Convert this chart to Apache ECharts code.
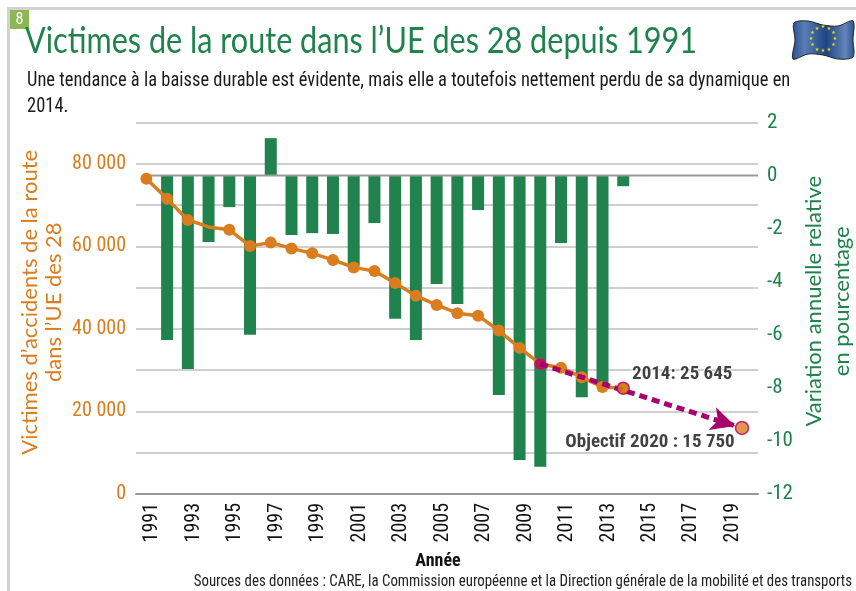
<!DOCTYPE html>
<html>
<head>
<meta charset="utf-8">
<style>html,body{margin:0;padding:0;background:#fff}#chart{width:856px;height:591px}</style>
<script src="https://cdn.jsdelivr.net/npm/echarts@6/dist/echarts.min.js"></script>
</head>
<body>
<div id="chart"></div>
<script>
// Données
const years = [];
for (let y = 1991; y <= 2020; y++) years.push(String(y));
const victimes = [76400, 71500, 66400, 64700, 64000, 60100, 60900, 59500, 58300, 56700, 54900, 54000, 51100, 48000, 45800, 43800, 43200, 39600, 35400, 31500, 30600, 28300, 25900, 25645];
const variation = [null, -6.2, -7.29, -2.5, -1.19, -6.0, 1.41, -2.24, -2.17, -2.2, -3.4, -1.79, -5.4, -6.2, -4.09, -4.84, -1.3, -8.27, -10.72, -10.97, -2.54, -8.35, -7.9, -0.4];
const zeroLine = [[1991.2, 0], [2020.5, 0]];
const trendStart = [2010, 31500];
const trendEnd = [2019.4, 16500];
const point2014 = [2014, 25645];
const point2020 = [2019.73, 16000];
const label2014 = '2014: 25 645';
const label2020 = 'Objectif 2020 : 15 750';

const ORANGE = '#d97d1e';
const GREEN = '#20824c';
const MAGENTA = '#a8006e';
const NARROW = '"Roboto Condensed", sans-serif';
const ROUND = 'Lato, sans-serif';

// Drapeau européen : 12 étoiles en cercle
const stars = [];
for (let i = 0; i < 12; i++) {
  const a = i * Math.PI / 6;
  stars.push({
    type: 'text', z: 12, x: 823 + 12 * Math.cos(a), y: 39 + 12 * Math.sin(a),
    style: { text: '★', fill: '#f5d90a', font: '5px "DejaVu Sans"', align: 'center', verticalAlign: 'middle' }
  });
}

const chart = echarts.init(document.getElementById('chart'), null, { renderer: 'canvas' });
chart.setOption({
  animation: false,
  backgroundColor: '#fff',
  grid: { left: 136, right: 98, top: 122.5, bottom: 97, outerBoundsMode: 'none' },
  xAxis: [
    { type: 'category', data: years, boundaryGap: true,
      axisTick: { show: false },
      axisLine: { onZero: false, lineStyle: { color: '#999', width: 2 } },
      axisLabel: { interval: 1, rotate: 90, margin: 9, color: '#111', fontFamily: NARROW, fontSize: 20, verticalAlign: 'top', lineHeight: 12 },
      name: 'Année', nameLocation: 'middle', nameGap: 58,
      nameTextStyle: { color: '#111', fontFamily: NARROW, fontSize: 18, fontWeight: 700, padding: [0, 18, 0, 0] } },
    { type: 'value', show: false, min: 1990.5, max: 2020.5 }
  ],
  yAxis: [
    { type: 'value', min: 0, max: 90000, interval: 10000, position: 'left',
      axisLine: { show: false }, axisTick: { show: false },
      splitLine: { lineStyle: { color: '#cfcfcf', width: 2 } },
      axisLabel: { margin: 10, color: ORANGE, fontFamily: NARROW, fontSize: 20,
        formatter: v => v % 20000 ? '' : String(v).replace(/(\d)(?=\d{3}$)/, '$1 ') },
      name: 'Victimes d’accidents de la route\ndans l’UE des 28', nameLocation: 'middle', nameGap: 70, nameRotate: 90, nameMoveOverlap: false,
      nameTextStyle: { color: ORANGE, fontFamily: ROUND, fontSize: 22, lineHeight: 24, padding: [0, 0, 0, 12] } },
    { type: 'value', min: -12, max: 2, interval: 2, position: 'right',
      axisLine: { show: false }, axisTick: { show: false }, splitLine: { show: false },
      axisLabel: { margin: 9, color: GREEN, fontFamily: NARROW, fontSize: 21 },
      name: 'Variation annuelle relative\nen pourcentage', nameLocation: 'middle', nameGap: 42, nameRotate: 90, nameMoveOverlap: false,
      nameTextStyle: { color: GREEN, fontFamily: ROUND, fontSize: 22, lineHeight: 28, padding: [0, 0, 0, 14] } }
  ],
  series: [
    { type: 'line', xAxisIndex: 1, yAxisIndex: 1, data: zeroLine, symbol: 'none', silent: true,
      lineStyle: { color: '#999', width: 2 } },
    { type: 'bar', xAxisIndex: 0, yAxisIndex: 1, data: variation, barWidth: 12,
      itemStyle: { color: GREEN } },
    { type: 'line', xAxisIndex: 0, yAxisIndex: 0,
      data: victimes.map((v, i) => (i === 3 ? { value: v, symbol: 'none' } : v)),
      symbol: 'circle', symbolSize: 12,
      lineStyle: { color: ORANGE, width: 3.5 }, itemStyle: { color: ORANGE } },
    { type: 'line', xAxisIndex: 1, yAxisIndex: 0, data: [],
      markLine: { silent: true, symbol: ['none', 'arrow'], symbolSize: [18, 24], label: { show: false },
        lineStyle: { color: MAGENTA, width: 5, type: [8, 5], opacity: 1 },
        data: [[{ coord: trendStart }, { coord: trendEnd }]] } },
    { type: 'scatter', xAxisIndex: 1, yAxisIndex: 0, z: 5, symbolSize: 12,
      data: [
        { value: trendStart, itemStyle: { color: MAGENTA } },
        { value: point2014, symbolSize: 12,
          itemStyle: { color: ORANGE, borderColor: MAGENTA, borderWidth: 1.5 },
          label: { show: true, formatter: label2014, position: 'top', offset: [59, 4], distance: 2,
            color: '#111', fontFamily: NARROW, fontSize: 19, fontWeight: 700,
            textBorderColor: '#fff', textBorderWidth: 2 } },
        { value: point2020, symbolSize: 13,
          itemStyle: { color: ORANGE, borderColor: MAGENTA, borderWidth: 1.5 },
          label: { show: true, formatter: label2020, position: 'bottom', offset: [-92, -3], distance: 1,
            color: '#111', fontFamily: NARROW, fontSize: 19, fontWeight: 700,
            textBorderColor: '#fff', textBorderWidth: 2 } }
      ] }
  ],
  graphic: [
    // cadre gris haut + gauche
    { type: 'rect', shape: { x: 8, y: 7, width: 848, height: 3 }, style: { fill: '#d2d2d2' } },
    { type: 'rect', shape: { x: 7, y: 7, width: 3, height: 584 }, style: { fill: '#d2d2d2' } },
    // pastille numéro
    { type: 'rect', shape: { x: 10, y: 10, width: 19, height: 19 }, style: { fill: '#8db654' } },
    { type: 'text', x: 19.5, y: 20, style: { text: '8', fill: '#fff', font: '16px ' + NARROW, align: 'center', verticalAlign: 'middle' } },
    // titre, sous-titre et sources (écrasés horizontalement)
    { type: 'text', x: 25, y: 41, scaleX: 0.85, style: { text: 'Victimes de la route dans l’UE des 28 depuis 1991', fill: GREEN,
        font: '36px ' + ROUND, verticalAlign: 'middle' } },
    { type: 'text', x: 27, y: 68, scaleX: 0.925, style: { text: 'Une tendance à la baisse durable est évidente, mais elle a toutefois nettement perdu de sa dynamique en\n2014.',
        fill: '#1a1a1a', font: '20px ' + NARROW, lineHeight: 26 } },
    { type: 'text', x: 852, y: 573, scaleX: 0.875, style: { text: 'Sources des données : CARE, la Commission européenne et la Direction générale de la mobilité et des transports',
        fill: '#222', font: '17px ' + NARROW, align: 'right' } },
    // drapeau
    { type: 'polygon', z: 11,
      shape: { smooth: 0.3, points: [[794, 23], [808, 21], [823, 25], [838, 26], [853, 21], [853, 40], [853, 57], [838, 59], [823, 55], [808, 54], [793, 59], [795, 40]] },
      style: { stroke: '#222', lineWidth: 1,
        fill: { type: 'linear', x: 0, y: 0, x2: 1, y2: 0,
          colorStops: [{ offset: 0, color: '#28508f' }, { offset: 0.2, color: '#5a7db5' }, { offset: 0.55, color: '#1d4583' }, { offset: 0.85, color: '#6484ba' }, { offset: 1, color: '#2b5190' }] } } }
  ].concat(stars)
});
</script>
</body>
</html>
